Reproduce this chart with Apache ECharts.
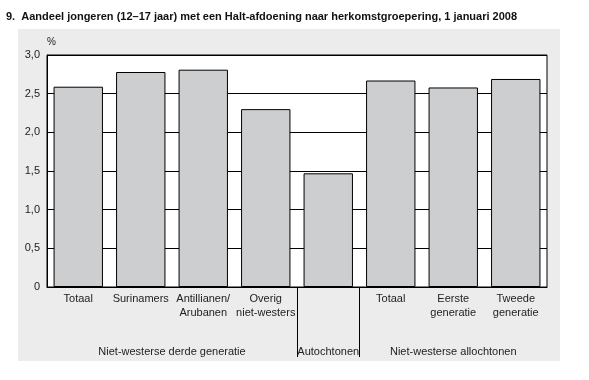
<!DOCTYPE html>
<html><head><meta charset="utf-8">
<script src="https://cdn.jsdelivr.net/npm/echarts@6/dist/echarts.min.js"></script>
<style>html,body{margin:0;padding:0;background:#fff}#c{width:589px;height:380px}</style>
</head><body><div id="c"></div>
<script>
const titleText = '9.  Aandeel jongeren (12\u201317 jaar) met een Halt-afdoening naar herkomstgroepering, 1 januari 2008';
const categories = ['Totaal','Surinamers','Antillianen/\nArubanen','Overig\nniet-westers','','Totaal','Eerste\ngeneratie','Tweede\ngeneratie'];
const values = [2.59, 2.78, 2.81, 2.30, 1.47, 2.67, 2.58, 2.69];
const groupLabels = ['Niet-westerse derde generatie','Autochtonen','Niet-westerse allochtonen'];
const groupCenters = [2, 4.5, 6.5];
const groupBoundaries = [4, 5];
const yTicks = [0, 0.5, 1, 1.5, 2, 2.5, 3];

const font = 'Liberation Sans, Arial, sans-serif';
const chart = echarts.init(document.getElementById('c'));
chart.setOption({
  animation: false,
  backgroundColor: '#ffffff',
  graphic: [
    {type:'rect', shape:{x:18,y:29,width:542,height:332}, style:{fill:'#ececec'}, z:-10, silent:true},
    {type:'text', left:6, top:11, style:{text:titleText, font:'bold 11px '+font, fill:'#111'}},
    {type:'text', left:47, top:37, style:{text:'%', font:'10px '+font, fill:'#222'}}
  ],
  grid: {left:47, right:42, top:55, bottom:93, show:true, backgroundColor:'#ffffff', borderColor:'#000', borderWidth:1, containLabel:false},
  xAxis: [
    {type:'category', data:categories, boundaryGap:true,
     axisLine:{show:true, lineStyle:{color:'#000', width:1}},
     axisTick:{show:false},
     axisLabel:{interval:0, color:'#222', fontFamily:font, fontSize:11, lineHeight:14, margin:5}},
    {type:'value', min:0, max:categories.length, position:'bottom', offset:0,
     axisLine:{show:false}, splitLine:{show:false},
     axisTick:{show:true, length:70, customValues:groupBoundaries, lineStyle:{color:'#000', width:1}},
     axisLabel:{show:true, margin:59, color:'#222', fontFamily:font, fontSize:11,
       customValues:groupCenters,
       formatter:function(v){ const k = groupCenters.indexOf(v); return k>=0 ? groupLabels[k] : ''; }}}
  ],
  yAxis: {type:'value', min:0, max:3, interval:0.5,
    axisLine:{show:true, lineStyle:{color:'#000'}}, axisTick:{show:false},
    splitLine:{show:true, lineStyle:{color:'#000', width:1}},
    axisLabel:{color:'#222', fontFamily:font, fontSize:11, margin:7,
      formatter:function(v){ return v===0 ? '0' : v.toFixed(1).replace('.', ','); }}},
  series: [{type:'bar', data:values, xAxisIndex:0, barCategoryGap:'21%',
    itemStyle:{color:'#cdced0', borderColor:'#000', borderWidth:1}}]
});
</script></body></html>
